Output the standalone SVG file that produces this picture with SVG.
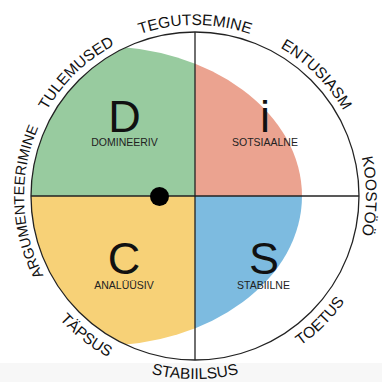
<svg xmlns="http://www.w3.org/2000/svg" width="382" height="382" viewBox="0 0 382 382">
<style>
.big{font-family:"Liberation Sans",Arial,sans-serif;font-size:45px;fill:#111;text-anchor:middle}
.small{font-family:"Liberation Sans",Arial,sans-serif;font-size:10.5px;fill:#222;text-anchor:middle}
.ring{font-family:"Liberation Sans",Arial,sans-serif;font-size:15.5px;fill:#111;text-anchor:middle}
.ln{stroke:#222;stroke-width:1.3;fill:none}
</style>
<defs>
<clipPath id="circ"><circle cx="195" cy="196" r="164"/></clipPath>
<clipPath id="ell"><ellipse cx="100" cy="196" rx="202" ry="150"/></clipPath>
<!-- outer (clockwise) arcs, radius 171 -->
<path id="pTop" d="M 46.9 110.5 A 171 171 0 0 1 343.1 110.5"/>
<path id="pNE" d="M 150.7 30.8 A 171 171 0 0 1 360.2 240.3"/>
<path id="pE" d="M 280.5 47.9 A 171 171 0 0 1 280.5 344.1"/>
<path id="pW" d="M 114.7 347 A 171 171 0 0 1 104.4 51"/>
<path id="pNW" d="M 29.1 237.4 A 171 171 0 0 1 242.1 31.6"/>
<!-- inner-reading (counter-clockwise) arcs, radius 183 -->
<path id="pS" d="M 36.5 287.5 A 183 183 0 0 0 353.5 287.5"/>
<path id="pSE" d="M 147.6 372.8 A 183 183 0 0 0 371.8 148.6"/>
<path id="pSW" d="M 13.8 170.5 A 183 183 0 0 0 263.6 365.7"/>
</defs>
<rect x="0" y="0" width="382" height="382" fill="#ffffff"/>
<rect x="0" y="363" width="382" height="19" fill="#f7f7f7"/>
<g clip-path="url(#circ)">
<g clip-path="url(#ell)">
<rect id="quad-D" x="0" y="0" width="195" height="196" fill="#98cb9f"/>
<rect id="quad-i" x="195" y="0" width="187" height="196" fill="#eba390"/>
<rect id="quad-C" x="0" y="196" width="195" height="186" fill="#f7d177"/>
<rect id="quad-S" x="195" y="196" width="187" height="186" fill="#7dbbe0"/>
</g>
</g>
<g id="connectors">
<circle class="ln" cx="195" cy="196" r="164"/>
<line class="ln" x1="195" y1="32" x2="195" y2="360"/>
<line class="ln" x1="31" y1="196" x2="359" y2="196"/>
</g>
<circle id="dot" cx="159.5" cy="196.5" r="9.5" fill="#000"/>
<g id="node-D"><text class="big" x="124.5" y="132">D</text><text class="small" x="124.5" y="146">DOMINEERIV</text></g>
<g id="node-i"><text class="big" x="265" y="132">i</text><text class="small" x="265" y="145.5">SOTSIAALNE</text></g>
<g id="node-C"><text class="big" x="124" y="273.5">C</text><text class="small" x="124" y="289">ANALÜÜSIV</text></g>
<g id="node-S"><text class="big" x="264" y="273.5">S</text><text class="small" x="263.5" y="289">STABIILNE</text></g>
<g id="ring-labels">
<text class="ring"><textPath href="#pTop" startOffset="50%">TEGUTSEMINE</textPath></text>
<text class="ring"><textPath href="#pNE" startOffset="50%">ENTUSIASM</textPath></text>
<text class="ring"><textPath href="#pE" startOffset="50%">KOOSTÖÖ</textPath></text>
<text class="ring" style="font-size:14.5px"><textPath href="#pW" startOffset="50%">ARGUMENTEERIMINE</textPath></text>
<text class="ring"><textPath href="#pNW" startOffset="50%">TULEMUSED</textPath></text>
<text class="ring"><textPath href="#pS" startOffset="50%">STABIILSUS</textPath></text>
<text class="ring"><textPath href="#pSE" startOffset="50%">TOETUS</textPath></text>
<text class="ring"><textPath href="#pSW" startOffset="50%">TÄPSUS</textPath></text>
</g>
</svg>
